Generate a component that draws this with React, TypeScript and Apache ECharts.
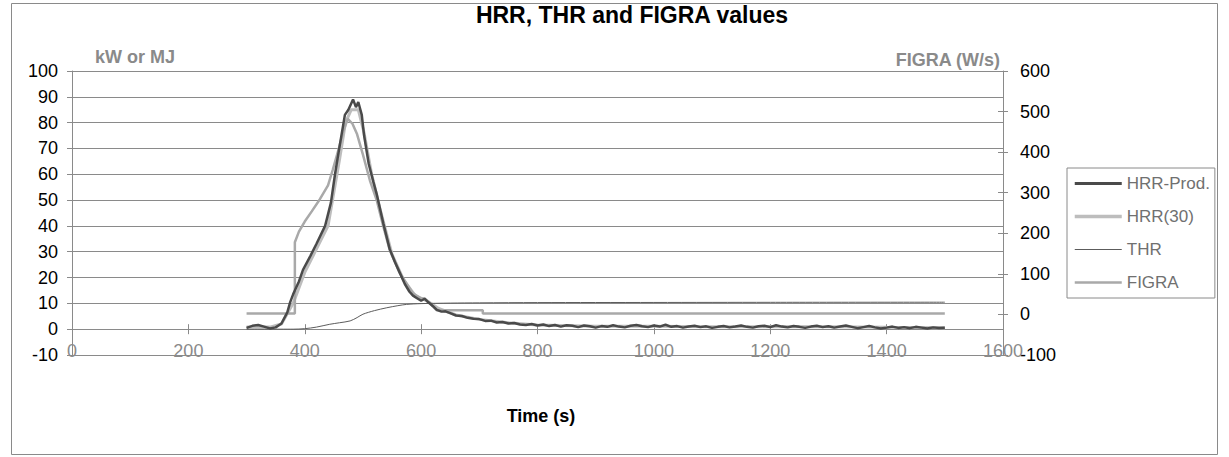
import React, { useEffect, useRef } from "react";
import * as echarts from "echarts";

const FONT = '"Liberation Sans", Arial, Helvetica, sans-serif';

const chartTitle = "HRR, THR and FIGRA values";
const leftUnit = "kW or MJ";
const rightUnit = "FIGRA (W/s)";
const xTitle = "Time (s)";
const seriesNames = ["HRR-Prod.", "HRR(30)", "THR", "FIGRA"];

// HRR-Prod. (kW, left axis)
const hrrProdTime = [
  300, 310, 320, 330, 340, 350, 360, 370, 375, 380, 390, 397, 410, 420, 435, 445, 452, 460, 469, 475,
  483, 488, 492, 498, 502, 510, 518, 524, 535, 546, 555, 563, 572, 580, 586, 593, 600, 606, 612, 620,
  627, 635, 642, 650, 660, 670, 680, 690, 700, 710, 720, 730, 740, 750, 760, 770, 780, 790,
  800, 810, 820, 830, 840, 850, 860, 870, 880, 890, 900, 910, 920, 930, 940, 950, 960, 970, 980, 990,
  1000, 1010, 1020, 1030, 1040, 1050, 1060, 1070, 1080, 1090, 1100, 1110, 1120, 1130, 1140, 1150,
  1160, 1170, 1180, 1190, 1200, 1210, 1220, 1230, 1240, 1250, 1260, 1270, 1280, 1290, 1300, 1310,
  1320, 1330, 1340, 1350, 1360, 1370, 1380, 1390, 1400, 1410, 1420, 1430, 1440, 1450, 1460, 1470,
  1480, 1490, 1500,
];
const hrrProdValue = [
  0.5, 1.3, 1.6, 1.0, 0.3, 0.7, 2.2, 6.5, 10.5, 13.5, 18.5, 23, 28.5, 33, 40, 49, 60, 71, 83, 85,
  89, 86, 88, 83, 75, 64, 57, 52, 41, 31, 26, 22, 17.5, 14.5, 13, 12, 11, 11.8, 10.5, 9,
  7.5, 6.8, 6.9, 6.2, 5.3, 5.1, 4.4, 4.0, 3.9, 3.2, 3.3, 2.6, 2.8, 2.2, 2.4, 1.8, 1.6, 2.0,
  1.4, 1.8, 1.2, 1.6, 1.0, 1.5, 1.3, 0.8, 1.4, 1.1, 0.6, 1.2, 0.9, 1.5, 1.0, 0.7, 1.3, 1.6, 1.1, 0.8,
  1.4, 1.0, 1.7, 0.9, 1.2, 0.6, 1.0, 1.3, 0.8, 1.1, 0.5, 0.9, 1.2, 0.7, 1.0, 1.4,
  0.9, 0.6, 1.1, 1.3, 0.8, 1.5, 1.0, 0.7, 1.2, 0.9, 0.5, 1.0, 1.3, 0.8, 1.1, 0.6,
  1.0, 1.4, 0.9, 0.4, 0.8, 1.2, 0.7, 0.3, 0.6, 1.0, 0.5, 0.8, 0.4, 0.9, 0.6, 0.3,
  0.7, 0.5, 0.6,
];

// HRR(30) (kW, left axis)
const hrr30Time = [300, 340, 360, 380, 400, 420, 440, 460, 470, 480, 492, 502, 515, 530, 550, 570, 590, 610, 630, 660, 700, 750, 800, 900, 1000, 1100, 1200, 1300, 1400, 1500];
const hrr30Value = [0.8, 0.8, 2, 10, 22, 31, 40, 66, 80, 85, 85, 76, 60, 46, 29, 19, 13, 11, 8, 5.5, 3.8, 2.5, 1.6, 1.1, 1.1, 0.9, 1.0, 0.9, 0.7, 0.6];

// THR (MJ, left axis)
const thrTime = [300, 380, 400, 420, 443, 460, 478, 490, 500, 520, 541, 560, 575, 600, 650, 700, 800, 1000, 1200, 1500];
const thrValue = [0, 0, 0.2, 0.8, 1.9, 2.5, 3.2, 4.5, 5.8, 7.2, 8.3, 9.1, 9.6, 9.9, 10.1, 10.2, 10.3, 10.35, 10.4, 10.45];

// FIGRA (W/s, right axis)
const figraTime = [300, 383, 383, 390, 400, 412, 426, 440, 448, 458, 466, 474, 482, 490, 500, 512, 524, 535, 546, 563, 586, 600, 606, 615, 627, 706, 706, 1500];
const figraValue = [2, 2, 178, 204, 229, 254, 284, 318, 356, 406, 451, 482, 470, 444, 394, 330, 280, 217, 159, 103, 52, 39, 39, 27, 10, 10, 2, 2];

const zip = (t: number[], v: number[]) => t.map((x, i) => [x, v[i]]);

export default function App() {
  const ref = useRef<HTMLDivElement>(null);
  useEffect(() => {
    if (!ref.current) return;
    const chart = echarts.init(ref.current, undefined, { renderer: "svg" });
    const grey = "#8a8a8a";
    // plot: top 71, bottom 355 -> left-axis zero sits 10/110 of the height above the bottom
    const plotH = 284;
    const zeroOffset = -(plotH * 10) / 110;
    const option = {
      animation: false,
      backgroundColor: "#ffffff",
      textStyle: { fontFamily: FONT },
      grid: { left: 72, right: 226, top: 71, bottom: 102, containLabel: false },
      legend: {
        orient: "vertical",
        left: 1067,
        top: 168,
        itemWidth: 47,
        itemHeight: 14,
        itemGap: 16,
        padding: [7, 5, 7, 6],
        borderColor: grey,
        borderWidth: 1,
        itemStyle: { opacity: 0 },
        data: [
          { name: seriesNames[0], lineStyle: { width: 3 } },
          { name: seriesNames[1], lineStyle: { width: 3.5 } },
          { name: seriesNames[2], lineStyle: { width: 1 } },
          { name: seriesNames[3], lineStyle: { width: 2.5 } },
        ],
        textStyle: { color: "#707070", fontSize: 17, lineHeight: 17, fontFamily: FONT },
      },
      xAxis: [
        {
          type: "value",
          min: 0,
          max: 1600,
          interval: 200,
          position: "bottom",
          offset: zeroOffset,
          axisLine: { show: true, onZero: false, lineStyle: { color: grey } },
          axisTick: { show: true, length: 5, lineStyle: { color: grey } },
          axisLabel: { color: "#8a8a8a", fontSize: 18, margin: 13, fontFamily: FONT, formatter: (v: number) => String(v) },
          splitLine: { show: false },
        },
        {
          type: "value",
          position: "bottom",
          offset: zeroOffset,
          min: 0,
          max: 1600,
          interval: 200,
          axisLine: { show: false, onZero: false },
          axisTick: { show: true, inside: true, length: 5, lineStyle: { color: grey } },
          axisLabel: { show: false },
          splitLine: { show: false },
        },
      ],
      yAxis: [
        {
          type: "value",
          min: -10,
          max: 100,
          interval: 10,
          position: "left",
          axisLine: { show: true, onZero: false, lineStyle: { color: grey } },
          axisTick: { show: true, length: 5, lineStyle: { color: grey } },
          axisLabel: { color: "#000000", fontSize: 18, margin: 14, fontFamily: FONT },
          splitLine: { show: true, lineStyle: { color: grey, width: 1 } },
        },
        {
          type: "value",
          min: -100,
          max: 600,
          interval: 100,
          position: "right",
          axisLine: { show: true, onZero: false, lineStyle: { color: grey } },
          axisTick: { show: true, inside: true, length: 5, lineStyle: { color: grey } },
          axisLabel: { color: "#000000", fontSize: 18, margin: 17, fontFamily: FONT },
          splitLine: { show: false },
        },
        {
          type: "value",
          min: -100,
          max: 600,
          interval: 100,
          position: "right",
          axisLine: { show: false, onZero: false },
          axisTick: { show: true, inside: false, length: 5, lineStyle: { color: grey } },
          axisLabel: { show: false },
          splitLine: { show: false },
        },
      ],
      series: [
        {
          name: "HRR(30)",
          type: "line",
          xAxisIndex: 0,
          yAxisIndex: 0,
          data: zip(hrr30Time, hrr30Value),
          symbol: "none",
          lineStyle: { color: "#bdbdbd", width: 3 },
          itemStyle: { color: "#bdbdbd" },
          z: 2,
        },
        {
          name: "FIGRA",
          type: "line",
          xAxisIndex: 0,
          yAxisIndex: 1,
          data: zip(figraTime, figraValue),
          symbol: "none",
          lineStyle: { color: "#a9a9a9", width: 2.5 },
          itemStyle: { color: "#a9a9a9" },
          z: 3,
        },
        {
          name: "THR",
          type: "line",
          xAxisIndex: 0,
          yAxisIndex: 0,
          data: zip(thrTime, thrValue),
          symbol: "none",
          smooth: 0.3,
          lineStyle: { color: "#5c5c5c", width: 1 },
          itemStyle: { color: "#5c5c5c" },
          z: 4,
        },
        {
          name: "HRR-Prod.",
          type: "line",
          xAxisIndex: 0,
          yAxisIndex: 0,
          data: zip(hrrProdTime, hrrProdValue),
          symbol: "none",
          lineStyle: { color: "#4a4a4a", width: 2.5 },
          itemStyle: { color: "#4a4a4a" },
          z: 5,
        },
      ],
      graphic: [
        {
          type: "rect",
          shape: { x: 11.5, y: 3.5, width: 1206, height: 451 },
          style: { fill: "none", stroke: grey, lineWidth: 1 },
          z: -10,
          silent: true,
        },
        {
          type: "text",
          x: 632,
          y: 15,
          style: { text: chartTitle, fill: "#000", fontSize: 23, fontWeight: "bold", fontFamily: FONT, align: "center", verticalAlign: "middle" },
        },
        {
          type: "text",
          x: 95,
          y: 57,
          style: { text: leftUnit, fill: grey, fontSize: 18, fontWeight: "bold", fontFamily: FONT, align: "left", verticalAlign: "middle" },
        },
        {
          type: "text",
          x: 1000,
          y: 60,
          style: { text: rightUnit, fill: grey, fontSize: 18, fontWeight: "bold", fontFamily: FONT, align: "right", verticalAlign: "middle" },
        },
        {
          type: "text",
          x: 541,
          y: 416,
          style: { text: xTitle, fill: "#000", fontSize: 18, fontWeight: "bold", fontFamily: FONT, align: "center", verticalAlign: "middle" },
        },
      ],
    };
    chart.setOption(option as any);
    return () => chart.dispose();
  }, []);
  return <div ref={ref} style={{ position: "absolute", left: 0, top: 0, width: 1229, height: 457 }} />;
}
